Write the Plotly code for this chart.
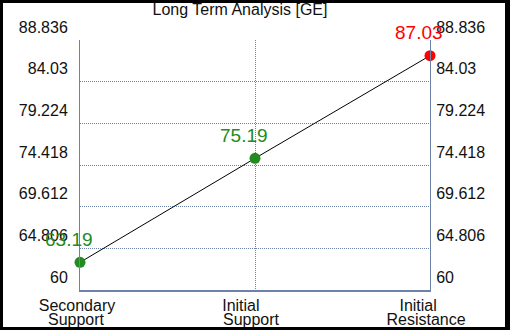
import plotly.graph_objects as go

categories = ["Secondary Support", "Initial Support", "Initial Resistance"]
label_line1 = ["Secondary", "Initial" + "\u00a0" * 5, "Initial" + "\u00a0" * 4]
label_line2 = ["Support", "Support", "Resistance"]
values = [63.19, 75.19, 87.03]
value_labels = ["63.19", "75.19", "87.03"]
point_colors = ["#228B22", "#228B22", "#FF0000"]
ytick_vals = [60, 64.806, 69.612, 74.418, 79.224, 84.03, 88.836]
ytick_text = ["60", "64.806", "69.612", "74.418", "79.224", "84.03", "88.836"]
title_text = "Long Term Analysis [GE]"

W, H = 510, 330
L, R, T, B = 80, 80, 40, 40
PW, PH = W - L - R, H - T - B

def px(x):
    return (x - L) / PW

def py(y):
    return (H - B - y) / PH

axis_col = "#6d82a8"
font_family = "Liberation Sans, Arial, sans-serif"
tick_font = dict(size=16, color="#111111", family=font_family)

fig = go.Figure()
fig.add_trace(go.Scatter(
    x=categories, y=values, mode="lines+markers",
    line=dict(color="black", width=1),
    marker=dict(color=point_colors, size=11),
    hoverinfo="skip", showlegend=False, cliponaxis=False,
))
fig.add_trace(go.Scatter(
    x=categories, y=values, xaxis="x2", yaxis="y2", mode="markers",
    marker=dict(opacity=0), hoverinfo="skip", showlegend=False,
))

for c, v, t, col in zip(categories, values, value_labels, point_colors):
    fig.add_annotation(x=c, y=v, text=t, showarrow=False,
                       font=dict(size=19, color=col, family=font_family),
                       xanchor="center", yanchor="middle", xshift=-11, yshift=23)

yax = dict(range=[60, 88.836], tickvals=ytick_vals, ticktext=ytick_text,
           showgrid=True, gridcolor=axis_col, griddash="1px,1px", gridwidth=1,
           showline=True, linecolor=axis_col, linewidth=1, automargin=False,
           zeroline=False, ticks="", ticklabelshift=-13, tickfont=tick_font)

xax = dict(range=[0, 2], tickvals=categories, showgrid=True, gridcolor=axis_col,
           griddash="1px,1px", showline=True, linecolor=axis_col, linewidth=2,
           ticks="", automargin=False, zeroline=False, tickfont=tick_font)

# black frame
for x0, y0, x1, y1 in [(0, 0, W, 3), (0, H - 3, W, H), (0, 0, 3, H), (W - 5, 0, W, H)]:
    fig.add_shape(type="rect", xref="paper", yref="paper",
                  x0=px(x0), x1=px(x1), y0=py(y0), y1=py(y1),
                  fillcolor="black", line=dict(width=0), layer="above")

fig.update_layout(
    width=W, height=H,
    margin=dict(l=L, r=R, t=T, b=B, autoexpand=False),
    paper_bgcolor="white", plot_bgcolor="white",
    title=dict(text=title_text, x=240 / W, xanchor="center", y=1 - 9.5 / H, yanchor="middle",
               automargin=False,
               font=dict(size=16, color="#111111", family=font_family)),
    xaxis=dict(ticktext=label_line1, ticklabelshift=-3, **xax),
    xaxis2=dict(ticktext=label_line2, ticklabelshift=-4, ticklabelstandoff=14,
                overlaying="x", side="bottom", **xax),
    yaxis=dict(side="left", ticklabelstandoff=8, **yax),
    yaxis2=dict(side="right", overlaying="y", ticklabelstandoff=2, **yax),
)

fig.write_html("out.html", config={"displayModeBar": False},
               post_script="document.body.style.margin='0';")
